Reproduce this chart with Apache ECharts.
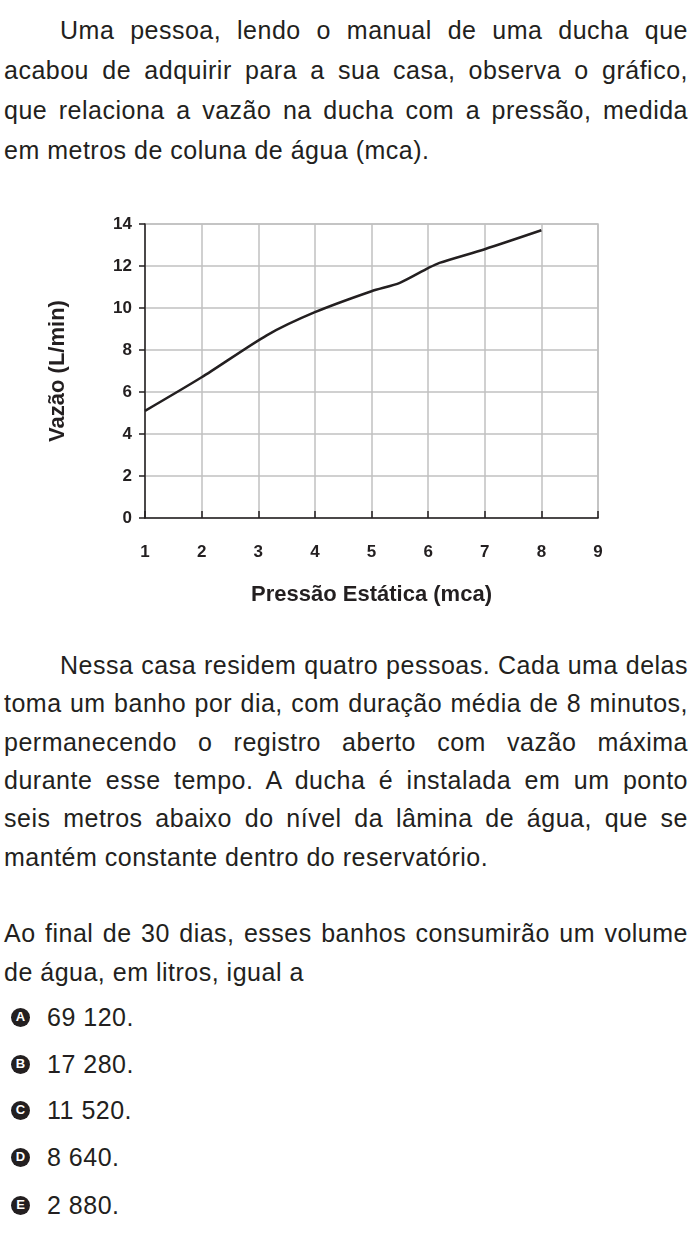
<!DOCTYPE html><html><head><meta charset="utf-8">
<script src="https://cdn.jsdelivr.net/npm/echarts@6/dist/echarts.min.js"></script>
<style>
body{margin:0;width:700px;height:1255px;position:relative;background:#fff;font-family:"Liberation Sans",Arial,sans-serif;color:#231f20;overflow:hidden}
.l{position:absolute;left:4px;width:684px;font-size:25px;line-height:38px;letter-spacing:0.5px;white-space:nowrap}
.j{text-align:justify;text-align-last:justify;white-space:normal}
.opt{position:absolute;left:11px;font-size:25px;line-height:38px;letter-spacing:0.5px;display:flex;align-items:center}
.c{width:19px;height:19px;border-radius:50%;background:#231f20;color:#fff;font-size:13px;font-weight:bold;letter-spacing:0;display:inline-flex;align-items:center;justify-content:center;margin-right:17px}
#chart{position:absolute;left:0;top:200px;width:700px;height:420px}
</style></head><body>
<div class="l j" style="top:11px;left:60px;width:628px">Uma pessoa, lendo o manual de uma ducha que</div>
<div class="l j" style="top:51px">acabou de adquirir para a sua casa, observa o gráfico,</div>
<div class="l j" style="top:91px">que relaciona a vazão na ducha com a pressão, medida</div>
<div class="l" style="top:131px">em metros de coluna de água (mca).</div>
<div id="chart"></div>
<div class="l j" style="top:646px;left:60px;width:628px">Nessa casa residem quatro pessoas. Cada uma delas</div>
<div class="l j" style="top:684px">toma um banho por dia, com duração média de 8 minutos,</div>
<div class="l j" style="top:723px">permanecendo o registro aberto com vazão máxima</div>
<div class="l j" style="top:761px">durante esse tempo. A ducha é instalada em um ponto</div>
<div class="l j" style="top:799px">seis metros abaixo do nível da lâmina de água, que se</div>
<div class="l" style="top:838px">mantém constante dentro do reservatório.</div>
<div class="l j" style="top:914px">Ao final de 30 dias, esses banhos consumirão um volume</div>
<div class="l" style="top:953px">de água, em litros, igual a</div>
<div class="opt" style="top:998px"><span class="c">A</span>69 120.</div>
<div class="opt" style="top:1045px"><span class="c">B</span>17 280.</div>
<div class="opt" style="top:1091px"><span class="c">C</span>11 520.</div>
<div class="opt" style="top:1138px"><span class="c">D</span>8 640.</div>
<div class="opt" style="top:1186px"><span class="c">E</span>2 880.</div>
<script>
const pressao=[1,2,3.15,4,5,5.5,6,6.2,7,8];
const vazao=[5.1,6.7,8.7,9.8,10.8,11.2,11.9,12.15,12.8,13.7];
const xTicks=[1,9,1];
const yTicks=[0,14,2];
const ch=echarts.init(document.getElementById('chart'));
const lbl={color:'#231f20',fontWeight:'bold',fontSize:17,fontFamily:'Liberation Sans'};
ch.setOption({animation:false,
grid:{left:145,right:102,top:24,height:294},
xAxis:{type:'value',min:xTicks[0],max:xTicks[1],interval:xTicks[2],
 name:'Pressão Estática (mca)',nameLocation:'middle',nameGap:66,
 nameTextStyle:{color:'#231f20',fontWeight:'bold',fontSize:22,fontFamily:'Liberation Sans'},
 axisLine:{lineStyle:{color:'#231f20',width:1.5}},axisTick:{show:true,length:7,inside:true,lineStyle:{color:'#231f20',width:1.5}},
 axisLabel:Object.assign({margin:26},lbl),splitLine:{lineStyle:{color:'#c0c0c0',width:1.5}}},
yAxis:{type:'value',min:yTicks[0],max:yTicks[1],interval:yTicks[2],
 name:'Vazão (L/min)',nameLocation:'middle',nameGap:76,nameRotate:90,
 nameTextStyle:{color:'#231f20',fontWeight:'bold',fontSize:22,fontFamily:'Liberation Sans'},
 axisLine:{show:true,lineStyle:{color:'#231f20',width:1.5}},axisTick:{show:true,length:6,lineStyle:{color:'#231f20',width:1.5}},
 axisLabel:Object.assign({margin:13},lbl),splitLine:{lineStyle:{color:'#c0c0c0',width:1.5}}},
series:[{type:'line',data:pressao.map((x,i)=>[x,vazao[i]]),smooth:0.25,symbol:'none',lineStyle:{color:'#231f20',width:2.5}}],
graphic:[{type:'rect',shape:{x:145,y:24,width:453,height:294},style:{fill:'none',stroke:'#c0c0c0',lineWidth:1.5},z:-1}]
});
</script></body></html>
